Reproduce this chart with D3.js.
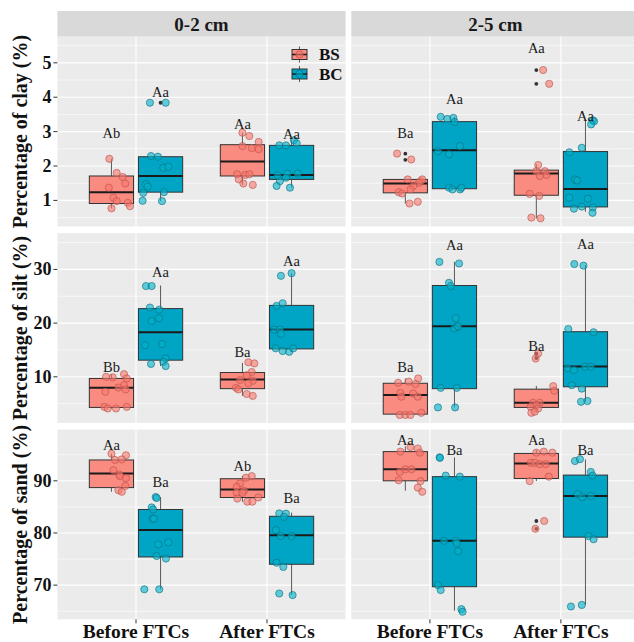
<!DOCTYPE html>
<html><head><meta charset="utf-8">
<script src="https://cdn.jsdelivr.net/npm/d3@7"></script>
<style>body{margin:0;background:#fff}svg{display:block}</style>
</head><body>
<svg id="chart" width="634" height="642"></svg>
<script>
// ---------- data ----------
const depths = ["0-2 cm", "2-5 cm"];
const times = ["Before FTCs", "After FTCs"];
const groups = ["BS", "BC"];
const variables = ["clay", "silt", "sand"];
const yTitles = ["Percentage of clay (%)", "Percentage of silt (%)", "Percentage of sand (%)"];
const clayTicks = [1, 2, 3, 4, 5];
const siltTicks = [10, 20, 30];
const sandTicks = [70, 80, 90];
const clayDomain = [0.244, 5.76];
const siltDomain = [1.42, 36.74];
const sandDomain = [63.45, 99.82];

// order of 8 entries: (0-2 Before BS, 0-2 Before BC, 0-2 After BS, 0-2 After BC, 2-5 Before BS, ...)
// box = [lower whisker, q1, median, q3, upper whisker]
const clayBoxes = [[0.77,0.91,1.24,1.71,2.21],[0.98,1.24,1.71,2.27,2.29],[1.45,1.71,2.13,2.62,2.97],[1.37,1.61,1.74,2.60,2.77],
                   [0.91,1.22,1.49,1.61,1.63],[1.32,1.34,2.46,3.29,3.43],[0.48,1.15,1.78,1.88,2.05],[0.67,0.81,1.33,2.42,3.35]];
const clayOutliers = [[],[3.84],[],[],[2.36,2.18],[],[4.79,4.39],[]];
const clayPoints = [
  [[2.21,-0.016],[1.80,0.04],[1.68,0.086],[1.49,0.106],[1.37,-0.02],[1.08,0.015],[0.98,0.04],[0.93,0.124],[0.83,0.142],[0.77,0.0]],
  [[3.84,-0.081],[3.84,0.039],[2.29,-0.073],[2.27,-0.02],[1.95,0.021],[1.98,0.059],[1.47,-0.111],[1.40,-0.098],[1.22,-0.132],[1.24,0.026],[0.99,-0.137],[0.98,0.011]],
  [[2.97,0.0],[2.87,0.053],[2.70,0.124],[2.58,0.0],[2.52,0.071],[2.49,0.124],[1.76,-0.041],[1.74,0.022],[1.76,0.053],[1.61,-0.028],[1.49,0.007],[1.45,0.079]],
  [[2.75,0.018],[2.66,0.039],[2.60,-0.094],[2.60,-0.043],[1.73,-0.106],[1.78,-0.033],[1.78,0.047],[1.56,-0.089],[1.66,-0.043],[1.42,-0.114],[1.37,-0.012]],
  [[2.36,-0.063],[2.19,0.045],[1.61,0.018],[1.56,0.116],[1.61,0.129],[1.51,0.103],[1.42,0.06],[1.32,0.039],[1.24,-0.051],[1.20,-0.025],[0.91,0.032],[0.96,0.095]],
  [[3.43,-0.105],[3.37,-0.054],[3.40,-0.008],[3.28,0.002],[2.58,0.041],[2.34,-0.042],[2.43,-0.126],[1.37,-0.042],[1.32,-0.015],[1.32,0.043],[1.37,0.053]],
  [[4.79,0.052],[4.39,0.098],[2.03,0.014],[1.85,0.0],[1.85,0.065],[1.74,0.078],[1.71,0.026],[1.19,-0.051],[1.13,0.022],[0.50,-0.038],[0.48,0.032]],
  [[3.33,0.056],[3.30,0.066],[3.21,0.043],[2.40,-0.123],[2.53,-0.028],[1.61,-0.08],[1.58,-0.062],[1.08,-0.123],[1.05,0.018],[0.76,-0.088],[0.82,-0.028],[0.79,0.056],[0.64,0.054]]
];
const clayLabels = ["Ab","Aa","Aa","Aa","Ba","Aa","Aa","Aa"];
const clayLabelY = [2.95,4.15,3.23,2.94,2.95,3.96,5.44,3.45];

const siltBoxes = [[4.1,4.3,7.95,9.7,10.5],[12.0,13.1,18.3,22.7,27.0],[6.45,7.8,9.5,10.8,12.6],[14.65,15.2,18.8,23.3,29.3],
                   [2.9,3.05,6.6,8.8,9.7],[4.3,7.8,19.4,27.0,31.4],[3.3,4.3,5.15,7.7,8.3],[5.35,8.15,11.9,18.4,30.8]];
const siltOutliers = [[],[],[],[],[],[],[14.3,13.5],[]];
const siltPoints = [
  [[10.5,0.096],[10.0,-0.041],[9.9,0.01],[9.7,0.117],[8.45,0.096],[8.0,0.053],[7.65,0.109],[7.2,-0.047],[4.4,-0.054],[4.1,-0.028],[4.1,0.035],[4.4,0.117]],
  [[26.9,-0.111],[26.9,-0.068],[22.9,-0.081],[22.5,-0.01],[20.4,-0.068],[20.9,-0.012],[15.9,-0.119],[16.1,0.013],[13.4,0.039],[12.8,0.021],[12.4,-0.073],[12.0,0.039]],
  [[12.7,0.045],[12.5,0.091],[10.9,0.071],[10.3,0.033],[9.4,-0.018],[9.25,0.079],[8.8,0.045],[7.95,-0.049],[7.65,-0.031],[6.8,0.033],[6.45,0.079]],
  [[29.3,0.0],[28.8,-0.081],[23.2,-0.114],[23.7,-0.068],[18.8,-0.134],[18.8,-0.089],[18.0,-0.081],[15.3,-0.121],[14.8,-0.068],[14.65,-0.018],[15.3,0.013]],
  [[8.9,-0.055],[9.1,0.026],[9.7,0.098],[8.65,0.078],[7.0,-0.038],[6.3,-0.03],[6.9,0.06],[6.3,0.095],[2.9,-0.043],[2.9,0.0],[2.9,0.039],[3.3,0.122]],
  [[31.4,-0.115],[31.1,0.035],[27.5,-0.042],[26.9,-0.028],[20.9,0.01],[19.3,0.018],[19.0,-0.003],[19.4,0.028],[7.95,-0.105],[7.95,0.018],[4.3,-0.126],[4.3,0.005]],
  [[14.35,0.014],[13.4,-0.005],[8.27,0.129],[7.4,0.137],[5.15,-0.025],[5.15,0.026],[4.7,0.0],[4.4,-0.043],[4.1,0.014],[3.3,-0.038],[3.5,-0.012]],
  [[31.0,-0.085],[30.7,-0.015],[18.9,-0.131],[18.3,0.062],[11.6,-0.136],[11.25,-0.088],[11.9,-0.003],[11.9,0.041],[8.45,-0.105],[7.8,-0.028],[5.35,-0.034],[5.5,0.015]]
];
const siltLabels = ["Bb","Aa","Ba","Aa","Ba","Aa","Ba","Aa"];
const siltLabelY = [11.9,29.55,14.7,31.5,11.9,34.5,15.7,34.65];

const sandBoxes = [[87.9,88.7,91.4,94.0,95.2],[69.2,75.4,80.55,84.5,86.9],[86.0,86.8,88.35,90.4,90.9],[68.1,74.0,79.55,83.2,83.9],
                   [88.1,90.0,92.2,95.6,96.6],[65.1,69.7,78.5,90.8,94.5],[89.95,90.45,93.3,95.25,95.9],[66.2,79.2,87.1,91.1,94.1]];
const sandOutliers = [[],[],[],[],[],[],[82.3,80.8],[]];
const sandPoints = [
  [[95.2,0.0],[94.9,0.111],[94.0,0.027],[94.1,0.079],[92.05,0.015],[91.2,0.06],[90.9,0.066],[90.5,0.111],[89.0,0.106],[88.2,0.053],[87.9,0.079]],
  [[86.9,-0.037],[86.7,-0.03],[84.9,-0.068],[84.5,-0.056],[82.8,-0.06],[82.7,-0.05],[78.2,0.059],[77.8,-0.018],[75.6,-0.03],[75.1,0.041],[69.2,-0.124],[69.2,-0.01]],
  [[90.9,0.071],[90.6,0.027],[89.5,-0.018],[88.85,-0.044],[88.1,0.012],[87.7,-0.044],[87.7,0.0],[86.8,0.121],[86.6,-0.039],[86.0,0.037],[86.0,0.076]],
  [[83.75,-0.094],[83.7,-0.043],[83.1,-0.058],[80.55,-0.119],[79.4,-0.083],[79.4,0.0],[74.3,-0.114],[73.5,-0.063],[68.4,-0.094],[68.1,0.008]],
  [[96.5,0.039],[96.2,0.095],[95.6,-0.038],[95.4,0.111],[91.7,-0.043],[92.2,0.0],[92.2,0.047],[90.1,-0.051],[89.95,0.116],[88.7,0.095],[87.9,0.129]],
  [[94.5,-0.113],[94.4,-0.111],[91.0,-0.067],[90.8,0.041],[78.5,-0.08],[78.5,0.01],[78.0,0.018],[76.5,0.028],[70.0,-0.126],[69.05,-0.105],[65.4,0.053],[64.9,0.062]],
  [[95.6,0.057],[95.4,0.122],[95.4,0.0],[93.45,-0.043],[93.45,-0.012],[93.2,0.026],[93.2,0.072],[90.8,0.095],[89.95,-0.051],[82.3,0.06],[80.8,-0.007]],
  [[93.8,-0.08],[94.15,-0.042],[91.7,0.041],[91.0,0.054],[87.45,-0.059],[86.9,-0.023],[87.1,0.041],[79.4,0.023],[78.8,0.062],[65.9,-0.111],[66.2,-0.028]]
];
const sandLabels = ["Aa","Ba","Ab","Ba","Aa","Ba","Aa","Ba"];
const sandLabelY = [96.85,89.75,92.9,86.8,97.8,95.9,97.8,95.9];

const groupFill = ["#FA8B80", "#00A5C6"];
const pointFill = ["#F8766D", "#00B2CC"];
const pointStroke = ["#B8544C", "#0B6E7E"];

// ---------- layout ----------
const svg = d3.select("#chart");
const serif = "'Liberation Serif','Times New Roman',serif";
const panelX = [57.4, 351.3], panelW = 288.2;
const rowTop = [36.7, 233.2, 429.6], rowH = 189.7;
const stripTop = 11;

const rows = [
  {ticks: clayTicks, domain: clayDomain, boxes: clayBoxes, outl: clayOutliers, pts: clayPoints, labs: clayLabels, labY: clayLabelY},
  {ticks: siltTicks, domain: siltDomain, boxes: siltBoxes, outl: siltOutliers, pts: siltPoints, labs: siltLabels, labY: siltLabelY},
  {ticks: sandTicks, domain: sandDomain, boxes: sandBoxes, outl: sandOutliers, pts: sandPoints, labs: sandLabels, labY: sandLabelY}
];

// strips
depths.forEach((d, di) => {
  svg.append("rect").attr("x", panelX[di]).attr("y", stripTop).attr("width", panelW).attr("height", rowTop[0] - stripTop).attr("fill", "#D9D9D9");
  svg.append("text").attr("x", panelX[di] + panelW / 2).attr("y", (stripTop + rowTop[0]) / 2 + 1)
    .attr("text-anchor", "middle").attr("dominant-baseline", "central")
    .style("font-family", serif).style("font-weight", "bold").style("font-size", "19px").attr("fill", "#1a1a1a").text(d);
});

rows.forEach((row, ri) => {
  const y = d3.scaleLinear().domain(row.domain).range([rowTop[ri] + rowH, rowTop[ri]]);
  const step = row.ticks[1] - row.ticks[0];
  const minor = [];
  for (let v = row.ticks[0] - step / 2; v <= row.domain[1]; v += step) if (v >= row.domain[0]) minor.push(v);

  depths.forEach((d, di) => {
    const x = d3.scalePoint().domain(times).range([panelX[di], panelX[di] + panelW]).padding(0.6);
    const s = x.step();
    const g = svg.append("g");
    g.append("rect").attr("x", panelX[di]).attr("y", rowTop[ri]).attr("width", panelW).attr("height", rowH).attr("fill", "#EBEBEB");
    g.selectAll(".mn").data(minor).join("line").attr("x1", panelX[di]).attr("x2", panelX[di] + panelW)
      .attr("y1", v => y(v)).attr("y2", v => y(v)).attr("stroke", "#fff").attr("stroke-width", 0.6);
    g.selectAll(".mj").data(row.ticks).join("line").attr("x1", panelX[di]).attr("x2", panelX[di] + panelW)
      .attr("y1", v => y(v)).attr("y2", v => y(v)).attr("stroke", "#fff").attr("stroke-width", 1.1);
    g.selectAll(".vx").data(times).join("line").attr("x1", t => x(t)).attr("x2", t => x(t))
      .attr("y1", rowTop[ri]).attr("y2", rowTop[ri] + rowH).attr("stroke", "#fff").attr("stroke-width", 1.1);

    const items = [];
    times.forEach((t, ti) => groups.forEach((gr, gi) => {
      const k = di * 4 + ti * 2 + gi;
      items.push({k, gi, cx: x(t) + (gi === 0 ? -0.1875 : 0.1875) * s, box: row.boxes[k], outl: row.outl[k], pts: row.pts[k], lab: row.labs[k], labY: row.labY[k]});
    }));
    const bw = 0.3375 * s;
    items.forEach(it => {
      const b = it.box;
      g.append("line").attr("x1", it.cx).attr("x2", it.cx).attr("y1", y(b[0])).attr("y2", y(b[1])).attr("stroke", "#595959").attr("stroke-width", 1);
      g.append("line").attr("x1", it.cx).attr("x2", it.cx).attr("y1", y(b[3])).attr("y2", y(b[4])).attr("stroke", "#595959").attr("stroke-width", 1);
      g.append("rect").attr("x", it.cx - bw / 2).attr("y", y(b[3])).attr("width", bw).attr("height", y(b[1]) - y(b[3]))
        .attr("fill", groupFill[it.gi]).attr("stroke", "#333").attr("stroke-width", 1);
      g.append("line").attr("x1", it.cx - bw / 2).attr("x2", it.cx + bw / 2).attr("y1", y(b[2])).attr("y2", y(b[2])).attr("stroke", "#1a1a1a").attr("stroke-width", 2);
      it.outl.forEach(v => g.append("circle").attr("cx", it.cx).attr("cy", y(v)).attr("r", 1.9).attr("fill", "#333"));
    });
    items.forEach(it => {
      g.selectAll(null).data(it.pts).join("circle")
        .attr("cx", p => it.cx + p[1] * s).attr("cy", p => y(p[0])).attr("r", 3.6)
        .attr("fill", pointFill[it.gi]).attr("fill-opacity", 0.6)
        .attr("stroke", pointStroke[it.gi]).attr("stroke-opacity", 0.7).attr("stroke-width", 0.9);
      g.append("text").attr("x", it.cx).attr("y", y(it.labY)).attr("text-anchor", "middle").attr("dominant-baseline", "central")
        .style("font-family", serif).style("font-size", "14.5px").attr("fill", "#1a1a1a").text(it.lab);
    });
    if (ri === 2) {
      g.selectAll(".xt").data(times).join("line").attr("x1", t => x(t)).attr("x2", t => x(t))
        .attr("y1", rowTop[ri] + rowH).attr("y2", rowTop[ri] + rowH + 4).attr("stroke", "#333").attr("stroke-width", 1);
      g.selectAll(".xl").data(times).join("text").attr("x", t => x(t)).attr("y", 638).attr("text-anchor", "middle")
        .style("font-family", serif).style("font-weight", "bold").style("font-size", "19.5px").attr("fill", "#111").text(t => t);
    }
  });

  // y axis
  const ya = svg.append("g");
  ya.selectAll("line").data(row.ticks).join("line").attr("x1", panelX[0] - 4).attr("x2", panelX[0])
    .attr("y1", v => y(v)).attr("y2", v => y(v)).attr("stroke", "#333").attr("stroke-width", 1);
  ya.selectAll("text").data(row.ticks).join("text").attr("x", panelX[0] - 6).attr("y", v => y(v))
    .attr("text-anchor", "end").attr("dominant-baseline", "central")
    .style("font-family", serif).style("font-weight", "bold").style("font-size", "18px").attr("fill", "#111").text(v => v);
  svg.append("text").attr("transform", `translate(27,${rowTop[ri] + rowH / 2}) rotate(-90)`).attr("text-anchor", "middle")
    .style("font-family", serif).style("font-weight", "bold").style("font-size", "20px").attr("fill", "#111").text(yTitles[ri]);
});

// legend
const lg = svg.append("g");
groups.forEach((gr, gi) => {
  const cy = 54.5 + gi * 19.5, cx = 299.5;
  lg.append("line").attr("x1", cx).attr("x2", cx).attr("y1", cy - 8).attr("y2", cy + 8).attr("stroke", "#595959");
  lg.append("rect").attr("x", cx - 7.5).attr("y", cy - 5).attr("width", 15).attr("height", 10).attr("fill", groupFill[gi]).attr("stroke", "#333");
  lg.append("line").attr("x1", cx - 7.5).attr("x2", cx + 7.5).attr("y1", cy).attr("y2", cy).attr("stroke", "#1a1a1a").attr("stroke-width", 1.5);
  lg.append("circle").attr("cx", cx).attr("cy", cy).attr("r", 3.6).attr("fill", pointFill[gi]).attr("fill-opacity", 0.6)
    .attr("stroke", pointStroke[gi]).attr("stroke-opacity", 0.7);
  lg.append("text").attr("x", 319).attr("y", cy + 5.8).style("font-family", serif).style("font-weight", "bold")
    .style("font-size", "17px").attr("fill", "#111").text(gr);
});
</script>
</body></html>
